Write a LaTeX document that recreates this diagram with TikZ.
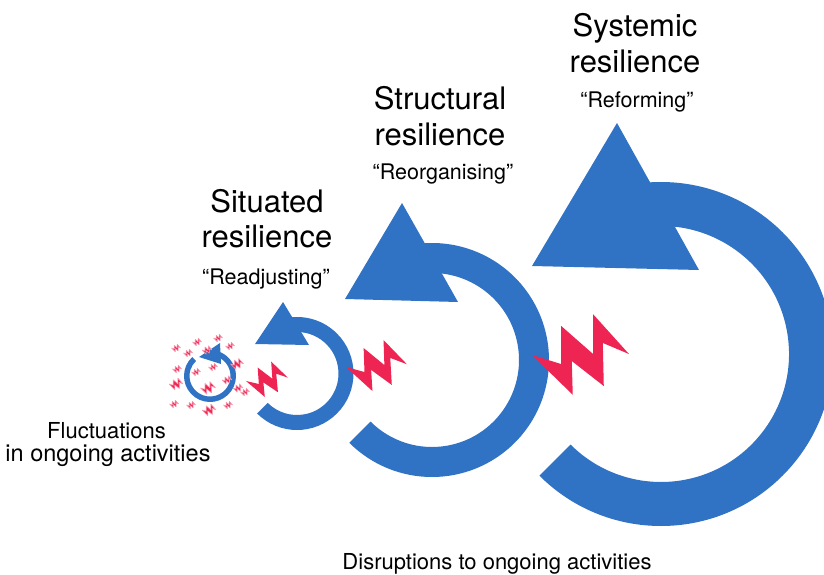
\documentclass[tikz,border=0pt]{standalone}
\usepackage{fontspec}
\setmainfont{TeX Gyre Heros}
\definecolor{ringblue}{HTML}{3072C4}
\definecolor{boltred}{HTML}{EE2452}
\tikzset{
  ringfill/.style={fill=ringblue},
  titletext/.style={font=\fontsize{31}{36}\selectfont, anchor=base, inner sep=0pt},
  quotetext/.style={font=\fontsize{21.5}{25}\selectfont, anchor=base, inner sep=0pt},
  bodytext/.style={font=\fontsize{22}{26}\selectfont, anchor=base, inner sep=0pt},
  bolt/.pic={\fill[boltred] (0,0) -- (0.30,-0.093) -- (0.30,0.30) -- (0.63,0.01) -- (0.63,0.42) -- (1,0.01) -- (0.73,0.124) -- (0.74,-0.32) -- (0.41,-0.062) -- (0.42,-0.41) -- cycle;},
  tinybolt/.pic={\filldraw[boltred, draw=boltred!45, line width=0.6pt, line join=round] (0,0) -- (0.30,-0.093) -- (0.30,0.30) -- (0.63,0.01) -- (0.63,0.42) -- (1,0.01) -- (0.73,0.124) -- (0.74,-0.32) -- (0.41,-0.062) -- (0.42,-0.41) -- cycle;}
}
\begin{document}
\begin{tikzpicture}[x=1pt,y=1pt]
\useasboundingbox (0,0) rectangle (824,574);
\clip (0,0) rectangle (824,574);

% systemic ring
\fill[ringfill, shift={(661,220)}] (225:172pt) arc[start angle=225,end angle=460,radius=172pt] -- (460:128pt) arc[start angle=460,end angle=225,radius=128pt] -- cycle;
\fill[ringfill] (532,308) -- (699,304) -- (617,451) -- cycle;

% structural ring
\fill[ringfill, shift={(432,214)}] (225:117pt) arc[start angle=225,end angle=460,radius=117pt] -- (460:87pt) arc[start angle=460,end angle=225,radius=87pt] -- cycle;
\fill[ringfill] (345,275) -- (458,272) -- (402,371) -- cycle;

% situated ring
\fill[ringfill, shift={(297,200.5)}] (225:56.5pt) arc[start angle=225,end angle=460,radius=56.5pt] -- (460:41.5pt) arc[start angle=460,end angle=225,radius=41.5pt] -- cycle;
\fill[ringfill] (255,230) -- (309,229) -- (283,272) -- cycle;

% fluctuation ring
\fill[ringfill, shift={(210,198)}] (133:26pt) arc[start angle=133,end angle=432,radius=26pt] -- (432:20.5pt) arc[start angle=432,end angle=133,radius=20.5pt] -- cycle;
\fill[ringfill] (199,217) -- (220,231) -- (221,210) -- cycle;

% disruption bolts
\path (532,219) pic[scale=97] {bolt};
\path (346,207) pic[scale=61, rotate=2] {bolt};
\path (246,193) pic[scale=42, rotate=4] {bolt};

% fluctuation bolts
\foreach \cx/\cy/\s in {176/348/9, 197/342/9, 218/338/9, 230/346/9, 188/353/9, 207/350/10,
  237/364/13, 177/369/9, 196/372/9, 213/367/9, 176/384/14, 208/388/15, 227/380/10,
  238/388/10, 245/392/9, 174/404/9, 191/405/9, 209/410/14, 228/405/9}{
  \path ({\cx-0.5*\s},{574-\cy}) pic[scale=\s] {tinybolt};
}

% labels
\node[titletext] (sys1) at (635,537) {Systemic};
\node[titletext] (sys2) at (635,501) {resilience};
\node[quotetext] (sysq) at (637,466) {“Reforming”};
\node[titletext] (str1) at (440,464) {Structural};
\node[titletext] (str2) at (440,428) {resilience};
\node[quotetext] (strq) at (443,394) {“Reorganising”};
\node[titletext] (sit1) at (267,362) {Situated};
\node[titletext] (sit2) at (267,327) {resilience};
\node[quotetext] (sitq) at (266,290) {“Readjusting”};
\node[bodytext] (fl1) at (106.5,136) {Fluctuations};
\node[bodytext, font=\fontsize{23.5}{27}\selectfont] (fl2) at (108,113) {in ongoing activities};
\node[bodytext] (dis) at (497,5) {Disruptions to ongoing activities};
\end{tikzpicture}
\end{document}
